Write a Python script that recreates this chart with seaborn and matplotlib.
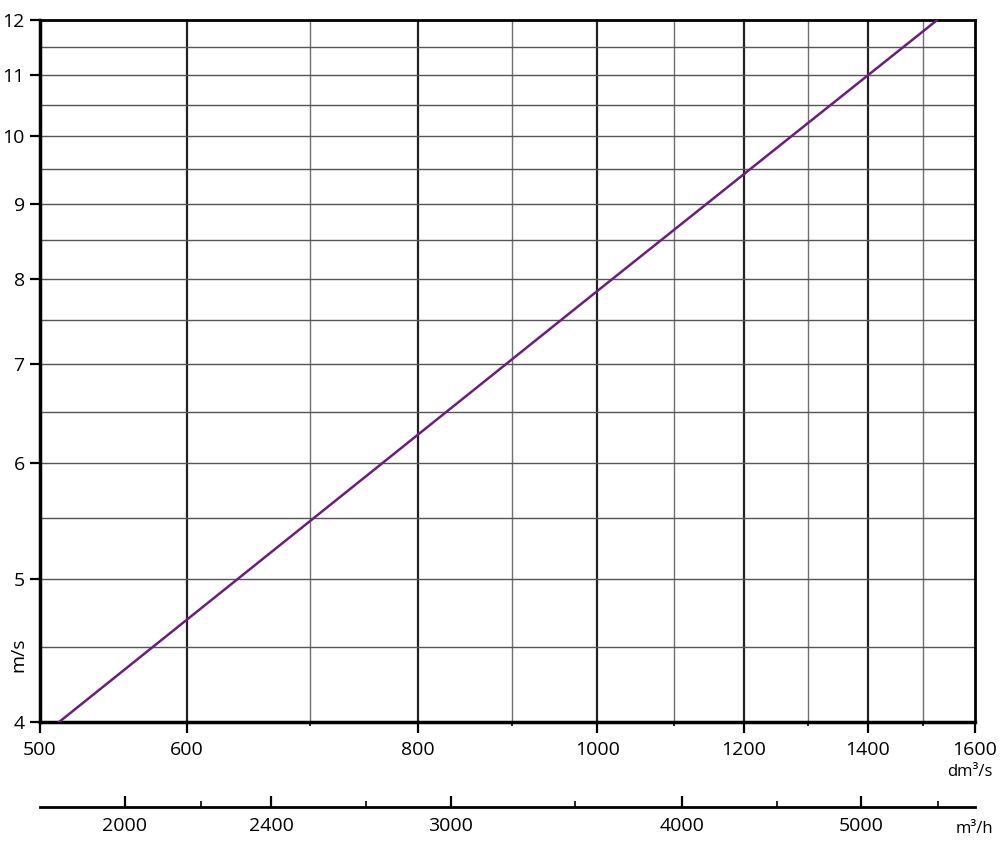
import matplotlib
matplotlib.use("Agg")
import matplotlib.pyplot as plt
import matplotlib.ticker as mticker
import seaborn as sns
import pandas as pd

# Werte
flow_dm3s = [512, 1000, 1527]
velocity_ms = [4.0, 7.85, 12.0]

x_major = [500, 600, 800, 1000, 1200, 1400, 1600]
x_minor = [700, 900, 1100, 1300, 1500]
y_major = [4, 5, 6, 7, 8, 9, 10, 11, 12]
y_minor = [4.5, 5.5, 6.5, 7.5, 8.5, 9.5, 10.5, 11.5]
m3h_major = [2000, 2400, 3000, 4000, 5000]
m3h_minor = [2200, 2700, 3500, 4500, 5500]

df = pd.DataFrame({"flow": flow_dm3s, "v": velocity_ms})

sns.set_style("white")
plt.rcParams["font.family"] = ["Open Sans", "DejaVu Sans"]
plt.rcParams["xtick.bottom"] = True
plt.rcParams["ytick.left"] = True

fig = plt.figure(figsize=(10, 8.44), dpi=100)
ax = fig.add_axes([0.04, 0.1445, 0.935, 0.832])

ax.set_xscale("log")
ax.set_yscale("log")
ax.set_xlim(500, 1600)
ax.set_ylim(4, 12)

# Gitter
for xv in x_major[1:-1]:
    ax.axvline(xv, color="#222222", lw=1.6, zorder=1)
for xv in x_minor:
    ax.axvline(xv, color="#707070", lw=1.0, zorder=1)
for yv in y_major[1:-1] + y_minor:
    ax.axhline(yv, color="#555555", lw=1.0, zorder=1)

sns.lineplot(data=df, x="flow", y="v", ax=ax, color="#6b1f7c", lw=1.8, zorder=3)

ax.xaxis.set_major_locator(mticker.FixedLocator(x_major))
ax.xaxis.set_minor_locator(mticker.FixedLocator(x_minor))
ax.xaxis.set_major_formatter(mticker.FixedFormatter([str(v) for v in x_major]))
ax.xaxis.set_minor_formatter(mticker.NullFormatter())
ax.yaxis.set_major_locator(mticker.FixedLocator(y_major))
ax.yaxis.set_minor_locator(mticker.NullLocator())
ax.yaxis.set_major_formatter(mticker.FixedFormatter([str(v) for v in y_major]))

ax.tick_params(axis="x", which="major", bottom=True, direction="out", length=8, width=1.6,
               labelsize=14, pad=6, colors="black")
ax.tick_params(axis="x", which="minor", bottom=True, direction="out", length=3, width=1.2,
               colors="black")
ax.tick_params(axis="y", which="major", left=True, direction="out", length=7, width=1.6,
               labelsize=14, pad=4, colors="black")

for side, lw in [("left", 2.5), ("bottom", 2.5), ("top", 2.0), ("right", 2.0)]:
    ax.spines[side].set_visible(True)
    ax.spines[side].set_color("black")
    ax.spines[side].set_linewidth(lw)

ax.set_xlabel("")
ax.set_ylabel("")
fig.text(0.018, 0.224, "m/s", rotation=90, fontsize=14, ha="center", va="center",
         color="black")
fig.text(0.993, 0.085, "dm³/s", fontsize=12, ha="right", va="center", color="black")

# zweite Achse in m³/h
sec = ax.secondary_xaxis(-0.121, functions=(lambda q: q * 3.6, lambda q: q / 3.6))
sec.xaxis.set_major_locator(mticker.FixedLocator(m3h_major))
sec.xaxis.set_minor_locator(mticker.FixedLocator(m3h_minor))
sec.xaxis.set_major_formatter(mticker.FixedFormatter([str(v) for v in m3h_major]))
sec.xaxis.set_minor_formatter(mticker.NullFormatter())
sec.tick_params(axis="x", which="major", bottom=True, direction="in", length=8, width=1.6,
                labelsize=14, pad=7, colors="black")
sec.tick_params(axis="x", which="minor", bottom=True, direction="in", length=4, width=1.2,
                colors="black")
sec.spines["bottom"].set_linewidth(2.0)
sec.spines["bottom"].set_color("black")
fig.text(0.993, 0.018, "m³/h", fontsize=12, ha="right", va="center", color="black")

fig.savefig("out.png", dpi=100)
